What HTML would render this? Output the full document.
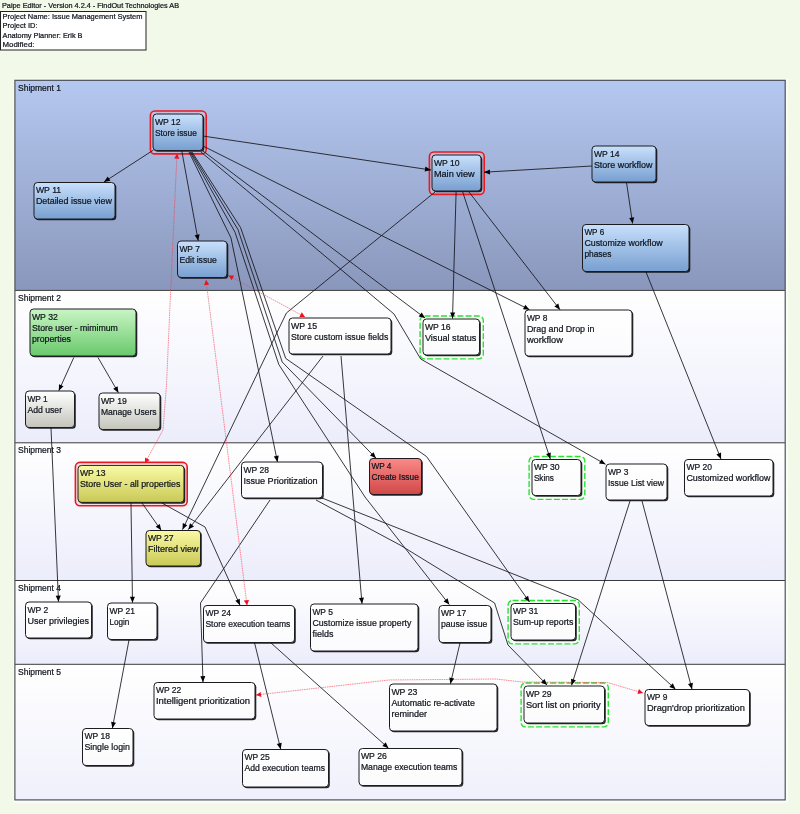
<!DOCTYPE html>
<html><head><meta charset="utf-8"><title>Paipe Editor</title>
<style>html,body{margin:0;padding:0;background:#f2f9e9;}body{width:800px;height:814px;overflow:hidden;font-family:"Liberation Sans",sans-serif;}svg{display:block;will-change:transform;transform:translateZ(0);filter:blur(0.4px)}text{font-family:"Liberation Sans",sans-serif;fill:#10141c;stroke:#10141c;stroke-width:0.22px}</style></head><body>
<svg width="800" height="814" viewBox="0 0 800 814">
<defs>
<linearGradient id="gs1" x1="0" y1="0" x2="0" y2="1"><stop offset="0" stop-color="#b5c8f0"/><stop offset="1" stop-color="#8a97bc"/></linearGradient>
<linearGradient id="gsw" x1="0" y1="0" x2="0" y2="1"><stop offset="0" stop-color="#ffffff"/><stop offset="1" stop-color="#ecedfb"/></linearGradient>
<linearGradient id="gsw5" x1="0" y1="0" x2="0" y2="1"><stop offset="0" stop-color="#ffffff"/><stop offset="1" stop-color="#f0f0fc"/></linearGradient>
<linearGradient id="gblue" x1="0" y1="0" x2="0" y2="1"><stop offset="0" stop-color="#c8e0fc"/><stop offset="1" stop-color="#789fd0"/></linearGradient>
<linearGradient id="ggreen" x1="0" y1="0" x2="0" y2="1"><stop offset="0" stop-color="#c9f5c4"/><stop offset="1" stop-color="#69c96c"/></linearGradient>
<linearGradient id="ggrey" x1="0" y1="0" x2="0" y2="1"><stop offset="0" stop-color="#ffffff"/><stop offset="1" stop-color="#c4c4bc"/></linearGradient>
<linearGradient id="gyellow" x1="0" y1="0" x2="0" y2="1"><stop offset="0" stop-color="#fafaa6"/><stop offset="1" stop-color="#c9c955"/></linearGradient>
<linearGradient id="gred" x1="0" y1="0" x2="0" y2="1"><stop offset="0" stop-color="#fa8a88"/><stop offset="1" stop-color="#d04848"/></linearGradient>
<linearGradient id="gwhite" x1="0" y1="0" x2="0" y2="1"><stop offset="0" stop-color="#ffffff"/><stop offset="1" stop-color="#fbfbfd"/></linearGradient>
</defs>
<rect width="800" height="814" fill="#f2f9e9"/>
<text x="2" y="7.6" font-size="7.3" textLength="177" lengthAdjust="spacingAndGlyphs">Paipe Editor - Version 4.2.4 - FindOut Technologies AB</text>
<rect x="0.5" y="11.5" width="145.5" height="38.5" fill="#ffffff" stroke="#222" stroke-width="1"/>
<text x="2.5" y="18.8" font-size="7.4" textLength="140" lengthAdjust="spacingAndGlyphs">Project Name: Issue Management System</text>
<text x="2.5" y="28.1" font-size="7.4" textLength="35" lengthAdjust="spacingAndGlyphs">Project ID:</text>
<text x="2.5" y="37.5" font-size="7.4" textLength="80" lengthAdjust="spacingAndGlyphs">Anatomy Planner: Erik B</text>
<text x="2.5" y="46.8" font-size="7.4" textLength="32" lengthAdjust="spacingAndGlyphs">Modified:</text>
<rect x="13.2" y="78.6" width="775" height="724.6" fill="#fafcf6"/>
<rect x="15" y="80" width="770" height="210.39999999999998" fill="url(#gs1)"/>
<rect x="15" y="290.4" width="770" height="152.40000000000003" fill="url(#gsw)"/>
<rect x="15" y="442.8" width="770" height="137.7" fill="url(#gsw)"/>
<rect x="15" y="580.5" width="770" height="83.79999999999995" fill="url(#gsw)"/>
<rect x="15" y="664.3" width="770" height="135.70000000000005" fill="url(#gsw5)"/>
<line x1="15" y1="290.4" x2="785" y2="290.4" stroke="#3a3a3a" stroke-width="1"/>
<line x1="15" y1="442.8" x2="785" y2="442.8" stroke="#3a3a3a" stroke-width="1"/>
<line x1="15" y1="580.5" x2="785" y2="580.5" stroke="#3a3a3a" stroke-width="1"/>
<line x1="15" y1="664.3" x2="785" y2="664.3" stroke="#3a3a3a" stroke-width="1"/>
<rect x="14.9" y="80.3" width="770.3" height="719.6" fill="none" stroke="#484c52" stroke-width="1.15"/>
<text x="18" y="90.5" font-size="8.6" textLength="43" lengthAdjust="spacingAndGlyphs">Shipment 1</text>
<text x="18" y="300.9" font-size="8.6" textLength="43" lengthAdjust="spacingAndGlyphs">Shipment 2</text>
<text x="18" y="453.3" font-size="8.6" textLength="43" lengthAdjust="spacingAndGlyphs">Shipment 3</text>
<text x="18" y="591.0" font-size="8.6" textLength="43" lengthAdjust="spacingAndGlyphs">Shipment 4</text>
<text x="18" y="674.8" font-size="8.6" textLength="43" lengthAdjust="spacingAndGlyphs">Shipment 5</text>
<rect x="150.4" y="111" width="55.8" height="42.9" rx="4.5" fill="#f4b8c0" fill-opacity="0.4" stroke="#ea1820" stroke-width="1.6"/>
<rect x="429.4" y="152" width="54.8" height="42.4" rx="4.5" fill="#f4b8c0" fill-opacity="0.4" stroke="#ea1820" stroke-width="1.6"/>
<rect x="420.1" y="316" width="63.2" height="42.9" rx="4.5" fill="#f6fff4" stroke="#2ce033" stroke-width="1.4" stroke-dasharray="6,2.2"/>
<rect x="75.4" y="462.4" width="111.8" height="43.4" rx="4.5" fill="#f4b8c0" fill-opacity="0.4" stroke="#ea1820" stroke-width="1.6"/>
<rect x="529.1" y="456.5" width="55.7" height="42.9" rx="4.5" fill="#f6fff4" stroke="#2ce033" stroke-width="1.4" stroke-dasharray="6,2.2"/>
<rect x="508.1" y="600.5" width="71.2" height="43.4" rx="4.5" fill="#f6fff4" stroke="#2ce033" stroke-width="1.4" stroke-dasharray="6,2.2"/>
<rect x="521.1" y="683" width="87.2" height="43.9" rx="4.5" fill="#f6fff4" stroke="#2ce033" stroke-width="1.4" stroke-dasharray="6,2.2"/>
<g fill="none" stroke="#14141a" stroke-width="0.85" stroke-linejoin="round">
<polyline points="153.5,150.0 104.0,182.0"/>
<polyline points="181.8,151.0 198.2,240.7"/>
<polyline points="189.0,152.0 231.0,238.0 277.5,462.0"/>
<polyline points="190.0,152.0 235.0,232.2 278.8,364.5 365.0,497.0 449.3,604.6"/>
<polyline points="191.0,152.0 238.0,229.6 282.2,362.0 376.0,458.2"/>
<polyline points="192.0,152.0 240.6,227.6 285.7,358.4 426.5,456.5 529.5,602.0"/>
<polyline points="204.0,136.2 431.0,170.0"/>
<polyline points="204.0,146.5 529.5,309.7"/>
<polyline points="203.0,151.0 425.0,318.0"/>
<polyline points="201.0,152.0 394.0,314.0 420.7,359.0 605.5,464.3"/>
<polyline points="592.0,166.0 484.0,172.2"/>
<polyline points="626.6,183.0 632.6,223.5"/>
<polyline points="435.0,192.0 286.4,313.0 182.5,529.6"/>
<polyline points="456.1,192.0 452.5,318.5"/>
<polyline points="462.7,192.0 550.3,459.0"/>
<polyline points="469.0,192.0 560.0,309.7"/>
<polyline points="646.0,272.0 721.0,459.0"/>
<polyline points="73.8,357.5 58.8,390.7"/>
<polyline points="98.0,357.5 118.4,392.7"/>
<polyline points="51.0,428.0 58.5,601.7"/>
<polyline points="131.0,503.0 132.5,602.7"/>
<polyline points="142.0,503.0 161.2,530.3"/>
<polyline points="162.0,503.0 205.0,527.0 240.0,605.2"/>
<polyline points="323.0,356.0 188.3,529.6"/>
<polyline points="341.0,356.0 362.0,603.8"/>
<polyline points="270.0,500.0 200.5,603.0 203.0,682.2"/>
<polyline points="322.0,498.0 578.0,599.7 675.5,689.2"/>
<polyline points="316.0,500.0 400.0,545.0 494.6,603.0 508.0,645.0 547.0,685.0"/>
<polyline points="630.0,501.0 571.6,685.2"/>
<polyline points="642.0,501.0 692.0,689.2"/>
<polyline points="129.0,640.0 112.4,728.2"/>
<polyline points="254.6,643.0 280.7,749.2"/>
<polyline points="271.0,643.0 388.5,748.2"/>
<polyline points="460.0,643.0 450.4,683.8"/>
</g>
<g fill="none" stroke="#f23a4c" stroke-width="0.8" stroke-opacity="0.72" stroke-dasharray="1.6,0.7">
<polyline points="177.0,153.6 170.7,290.0 166.5,385.0 163.0,430.0 145.0,463.0"/>
<polyline points="206.0,280.0 247.0,605.2"/>
<polyline points="228.5,275.5 305.0,317.0"/>
<polyline points="256.0,695.0 389.0,680.0 496.0,679.0 522.0,682.0 607.5,682.5 643.0,693.0"/>
</g>
<rect x="154.3" y="115.3" width="50" height="36.5" rx="3.5" fill="#08080c" fill-opacity="0.88"/>
<rect x="153" y="114" width="50" height="36.5" rx="3.5" fill="url(#gblue)" stroke="#1c1c20" stroke-width="1"/>
<text x="154.9" y="124.7" font-size="8.9" fill="#0e1a38" stroke="#0e1a38" textLength="25.8" lengthAdjust="spacingAndGlyphs">WP 12</text>
<text x="154.9" y="135.7" font-size="8.9" fill="#0e1a38" stroke="#0e1a38" textLength="42" lengthAdjust="spacingAndGlyphs">Store issue</text>
<rect x="35.3" y="183.8" width="81" height="36.5" rx="3.5" fill="#08080c" fill-opacity="0.88"/>
<rect x="34" y="182.5" width="81" height="36.5" rx="3.5" fill="url(#gblue)" stroke="#1c1c20" stroke-width="1"/>
<text x="35.9" y="193.2" font-size="8.9" fill="#0e1a38" stroke="#0e1a38" textLength="25.3" lengthAdjust="spacingAndGlyphs">WP 11</text>
<text x="35.9" y="204.2" font-size="8.9" fill="#0e1a38" stroke="#0e1a38" textLength="76" lengthAdjust="spacingAndGlyphs">Detailed issue view</text>
<rect x="178.8" y="242.3" width="49.5" height="36.5" rx="3.5" fill="#08080c" fill-opacity="0.88"/>
<rect x="177.5" y="241" width="49.5" height="36.5" rx="3.5" fill="url(#gblue)" stroke="#1c1c20" stroke-width="1"/>
<text x="179.4" y="251.7" font-size="8.9" fill="#0e1a38" stroke="#0e1a38" textLength="20.5" lengthAdjust="spacingAndGlyphs">WP 7</text>
<text x="179.4" y="262.7" font-size="8.9" fill="#0e1a38" stroke="#0e1a38" textLength="37.5" lengthAdjust="spacingAndGlyphs">Edit issue</text>
<rect x="433.3" y="156.3" width="49" height="36" rx="3.5" fill="#08080c" fill-opacity="0.88"/>
<rect x="432" y="155" width="49" height="36" rx="3.5" fill="url(#gblue)" stroke="#1c1c20" stroke-width="1"/>
<text x="433.9" y="165.7" font-size="8.9" fill="#0e1a38" stroke="#0e1a38" textLength="25.7" lengthAdjust="spacingAndGlyphs">WP 10</text>
<text x="433.9" y="176.7" font-size="8.9" fill="#0e1a38" stroke="#0e1a38" textLength="40.7" lengthAdjust="spacingAndGlyphs">Main view</text>
<rect x="593.3" y="147.3" width="64" height="36" rx="3.5" fill="#08080c" fill-opacity="0.88"/>
<rect x="592" y="146" width="64" height="36" rx="3.5" fill="url(#gblue)" stroke="#1c1c20" stroke-width="1"/>
<text x="593.9" y="156.7" font-size="8.9" fill="#0e1a38" stroke="#0e1a38" textLength="25.5" lengthAdjust="spacingAndGlyphs">WP 14</text>
<text x="593.9" y="167.7" font-size="8.9" fill="#0e1a38" stroke="#0e1a38" textLength="58.5" lengthAdjust="spacingAndGlyphs">Store workflow</text>
<rect x="583.8" y="225.8" width="106.5" height="47.0" rx="3.5" fill="#08080c" fill-opacity="0.88"/>
<rect x="582.5" y="224.5" width="106.5" height="47.0" rx="3.5" fill="url(#gblue)" stroke="#1c1c20" stroke-width="1"/>
<text x="584.4" y="235.2" font-size="8.9" fill="#0e1a38" stroke="#0e1a38" textLength="19.8" lengthAdjust="spacingAndGlyphs">WP 6</text>
<text x="584.4" y="246.2" font-size="8.9" fill="#0e1a38" stroke="#0e1a38" textLength="78.3" lengthAdjust="spacingAndGlyphs">Customize workflow</text>
<text x="584.4" y="257.2" font-size="8.9" fill="#0e1a38" stroke="#0e1a38" textLength="27" lengthAdjust="spacingAndGlyphs">phases</text>
<rect x="31.3" y="310.3" width="106" height="47" rx="3.5" fill="#08080c" fill-opacity="0.88"/>
<rect x="30" y="309" width="106" height="47" rx="3.5" fill="url(#ggreen)" stroke="#1c1c20" stroke-width="1"/>
<text x="31.9" y="319.7" font-size="8.9" fill="#0c2c0c" stroke="#0c2c0c" textLength="26" lengthAdjust="spacingAndGlyphs">WP 32</text>
<text x="31.9" y="330.7" font-size="8.9" fill="#0c2c0c" stroke="#0c2c0c" textLength="86" lengthAdjust="spacingAndGlyphs">Store user - mimimum</text>
<text x="31.9" y="341.7" font-size="8.9" fill="#0c2c0c" stroke="#0c2c0c" textLength="39" lengthAdjust="spacingAndGlyphs">properties</text>
<rect x="26.8" y="392.3" width="49.0" height="36.5" rx="3.5" fill="#08080c" fill-opacity="0.88"/>
<rect x="25.5" y="391" width="49.0" height="36.5" rx="3.5" fill="url(#ggrey)" stroke="#1c1c20" stroke-width="1"/>
<text x="27.4" y="401.7" font-size="8.9" fill="#141414" stroke="#141414" textLength="20.3" lengthAdjust="spacingAndGlyphs">WP 1</text>
<text x="27.4" y="412.7" font-size="8.9" fill="#141414" stroke="#141414" textLength="34.7" lengthAdjust="spacingAndGlyphs">Add user</text>
<rect x="100.3" y="394.3" width="61" height="36.5" rx="3.5" fill="#08080c" fill-opacity="0.88"/>
<rect x="99" y="393" width="61" height="36.5" rx="3.5" fill="url(#ggrey)" stroke="#1c1c20" stroke-width="1"/>
<text x="100.9" y="403.7" font-size="8.9" fill="#141414" stroke="#141414" textLength="26" lengthAdjust="spacingAndGlyphs">WP 19</text>
<text x="100.9" y="414.7" font-size="8.9" fill="#141414" stroke="#141414" textLength="55.7" lengthAdjust="spacingAndGlyphs">Manage Users</text>
<rect x="290.3" y="319.3" width="102" height="36" rx="3.5" fill="#08080c" fill-opacity="0.88"/>
<rect x="289" y="318" width="102" height="36" rx="3.5" fill="url(#gwhite)" stroke="#1c1c20" stroke-width="1"/>
<text x="290.9" y="328.7" font-size="8.9" fill="#141418" stroke="#141418" textLength="26.2" lengthAdjust="spacingAndGlyphs">WP 15</text>
<text x="290.9" y="339.7" font-size="8.9" fill="#141418" stroke="#141418" textLength="97.5" lengthAdjust="spacingAndGlyphs">Store custom issue fields</text>
<rect x="424.3" y="320.3" width="56.5" height="36" rx="3.5" fill="#08080c" fill-opacity="0.88"/>
<rect x="423" y="319" width="56.5" height="36" rx="3.5" fill="url(#gwhite)" stroke="#1c1c20" stroke-width="1"/>
<text x="424.9" y="329.7" font-size="8.9" fill="#141418" stroke="#141418" textLength="25.7" lengthAdjust="spacingAndGlyphs">WP 16</text>
<text x="424.9" y="340.7" font-size="8.9" fill="#141418" stroke="#141418" textLength="51.5" lengthAdjust="spacingAndGlyphs">Visual status</text>
<rect x="526.3" y="311.3" width="107" height="46" rx="3.5" fill="#08080c" fill-opacity="0.88"/>
<rect x="525" y="310" width="107" height="46" rx="3.5" fill="url(#gwhite)" stroke="#1c1c20" stroke-width="1"/>
<text x="526.9" y="320.7" font-size="8.9" fill="#141418" stroke="#141418" textLength="20.5" lengthAdjust="spacingAndGlyphs">WP 8</text>
<text x="526.9" y="331.7" font-size="8.9" fill="#141418" stroke="#141418" textLength="67.5" lengthAdjust="spacingAndGlyphs">Drag and Drop in</text>
<text x="526.9" y="342.7" font-size="8.9" fill="#141418" stroke="#141418" textLength="36" lengthAdjust="spacingAndGlyphs">workflow</text>
<rect x="79.3" y="466.7" width="106" height="37.0" rx="3.5" fill="#08080c" fill-opacity="0.88"/>
<rect x="78" y="465.4" width="106" height="37.0" rx="3.5" fill="url(#gyellow)" stroke="#1c1c20" stroke-width="1"/>
<text x="79.9" y="476.09999999999997" font-size="8.9" fill="#1c1c04" stroke="#1c1c04" textLength="25.7" lengthAdjust="spacingAndGlyphs">WP 13</text>
<text x="79.9" y="487.09999999999997" font-size="8.9" fill="#1c1c04" stroke="#1c1c04" textLength="100.5" lengthAdjust="spacingAndGlyphs">Store User - all properties</text>
<rect x="147.3" y="531.8" width="54.5" height="35.5" rx="3.5" fill="#08080c" fill-opacity="0.88"/>
<rect x="146" y="530.5" width="54.5" height="35.5" rx="3.5" fill="url(#gyellow)" stroke="#1c1c20" stroke-width="1"/>
<text x="147.9" y="541.2" font-size="8.9" fill="#1c1c04" stroke="#1c1c04" textLength="25.7" lengthAdjust="spacingAndGlyphs">WP 27</text>
<text x="147.9" y="552.2" font-size="8.9" fill="#1c1c04" stroke="#1c1c04" textLength="50.5" lengthAdjust="spacingAndGlyphs">Filtered view</text>
<rect x="242.8" y="463.3" width="81.0" height="36" rx="3.5" fill="#08080c" fill-opacity="0.88"/>
<rect x="241.5" y="462" width="81.0" height="36" rx="3.5" fill="url(#gwhite)" stroke="#1c1c20" stroke-width="1"/>
<text x="243.4" y="472.7" font-size="8.9" fill="#141418" stroke="#141418" textLength="25.5" lengthAdjust="spacingAndGlyphs">WP 28</text>
<text x="243.4" y="483.7" font-size="8.9" fill="#141418" stroke="#141418" textLength="74.2" lengthAdjust="spacingAndGlyphs">Issue Prioritization</text>
<rect x="370.8" y="459.8" width="52.0" height="36.0" rx="3.5" fill="#08080c" fill-opacity="0.88"/>
<rect x="369.5" y="458.5" width="52.0" height="36.0" rx="3.5" fill="url(#gred)" stroke="#1c1c20" stroke-width="1"/>
<text x="371.4" y="469.2" font-size="8.9" fill="#300808" stroke="#300808" textLength="20" lengthAdjust="spacingAndGlyphs">WP 4</text>
<text x="371.4" y="480.2" font-size="8.9" fill="#300808" stroke="#300808" textLength="47.5" lengthAdjust="spacingAndGlyphs">Create Issue</text>
<rect x="533.3" y="460.8" width="49" height="36.0" rx="3.5" fill="#08080c" fill-opacity="0.88"/>
<rect x="532" y="459.5" width="49" height="36.0" rx="3.5" fill="url(#gwhite)" stroke="#1c1c20" stroke-width="1"/>
<text x="533.9" y="470.2" font-size="8.9" fill="#141418" stroke="#141418" textLength="25.7" lengthAdjust="spacingAndGlyphs">WP 30</text>
<text x="533.9" y="481.2" font-size="8.9" fill="#141418" stroke="#141418" textLength="20" lengthAdjust="spacingAndGlyphs">Skins</text>
<rect x="607.3" y="465.3" width="61" height="36" rx="3.5" fill="#08080c" fill-opacity="0.88"/>
<rect x="606" y="464" width="61" height="36" rx="3.5" fill="url(#gwhite)" stroke="#1c1c20" stroke-width="1"/>
<text x="607.9" y="474.7" font-size="8.9" fill="#141418" stroke="#141418" textLength="20.5" lengthAdjust="spacingAndGlyphs">WP 3</text>
<text x="607.9" y="485.7" font-size="8.9" fill="#141418" stroke="#141418" textLength="56.2" lengthAdjust="spacingAndGlyphs">Issue List view</text>
<rect x="685.8" y="460.8" width="88.5" height="36.5" rx="3.5" fill="#08080c" fill-opacity="0.88"/>
<rect x="684.5" y="459.5" width="88.5" height="36.5" rx="3.5" fill="url(#gwhite)" stroke="#1c1c20" stroke-width="1"/>
<text x="686.4" y="470.2" font-size="8.9" fill="#141418" stroke="#141418" textLength="25.5" lengthAdjust="spacingAndGlyphs">WP 20</text>
<text x="686.4" y="481.2" font-size="8.9" fill="#141418" stroke="#141418" textLength="84" lengthAdjust="spacingAndGlyphs">Customized workflow</text>
<rect x="26.8" y="603.3" width="66.0" height="36" rx="3.5" fill="#08080c" fill-opacity="0.88"/>
<rect x="25.5" y="602" width="66.0" height="36" rx="3.5" fill="url(#gwhite)" stroke="#1c1c20" stroke-width="1"/>
<text x="27.4" y="612.7" font-size="8.9" fill="#141418" stroke="#141418" textLength="20.8" lengthAdjust="spacingAndGlyphs">WP 2</text>
<text x="27.4" y="623.7" font-size="8.9" fill="#141418" stroke="#141418" textLength="61.5" lengthAdjust="spacingAndGlyphs">User privilegies</text>
<rect x="108.8" y="604.3" width="49.5" height="36.5" rx="3.5" fill="#08080c" fill-opacity="0.88"/>
<rect x="107.5" y="603" width="49.5" height="36.5" rx="3.5" fill="url(#gwhite)" stroke="#1c1c20" stroke-width="1"/>
<text x="109.4" y="613.7" font-size="8.9" fill="#141418" stroke="#141418" textLength="25.5" lengthAdjust="spacingAndGlyphs">WP 21</text>
<text x="109.4" y="624.7" font-size="8.9" fill="#141418" stroke="#141418" textLength="20" lengthAdjust="spacingAndGlyphs">Login</text>
<rect x="204.8" y="606.8" width="91.0" height="37.0" rx="3.5" fill="#08080c" fill-opacity="0.88"/>
<rect x="203.5" y="605.5" width="91.0" height="37.0" rx="3.5" fill="url(#gwhite)" stroke="#1c1c20" stroke-width="1"/>
<text x="205.4" y="616.2" font-size="8.9" fill="#141418" stroke="#141418" textLength="25.5" lengthAdjust="spacingAndGlyphs">WP 24</text>
<text x="205.4" y="627.2" font-size="8.9" fill="#141418" stroke="#141418" textLength="85" lengthAdjust="spacingAndGlyphs">Store execution teams</text>
<rect x="311.8" y="605.3" width="107.5" height="47" rx="3.5" fill="#08080c" fill-opacity="0.88"/>
<rect x="310.5" y="604" width="107.5" height="47" rx="3.5" fill="url(#gwhite)" stroke="#1c1c20" stroke-width="1"/>
<text x="312.4" y="614.7" font-size="8.9" fill="#141418" stroke="#141418" textLength="20.5" lengthAdjust="spacingAndGlyphs">WP 5</text>
<text x="312.4" y="625.7" font-size="8.9" fill="#141418" stroke="#141418" textLength="99" lengthAdjust="spacingAndGlyphs">Customize issue property</text>
<text x="312.4" y="636.7" font-size="8.9" fill="#141418" stroke="#141418" textLength="21" lengthAdjust="spacingAndGlyphs">fields</text>
<rect x="440.3" y="606.8" width="52" height="37.0" rx="3.5" fill="#08080c" fill-opacity="0.88"/>
<rect x="439" y="605.5" width="52" height="37.0" rx="3.5" fill="url(#gwhite)" stroke="#1c1c20" stroke-width="1"/>
<text x="440.9" y="616.2" font-size="8.9" fill="#141418" stroke="#141418" textLength="25.4" lengthAdjust="spacingAndGlyphs">WP 17</text>
<text x="440.9" y="627.2" font-size="8.9" fill="#141418" stroke="#141418" textLength="46.5" lengthAdjust="spacingAndGlyphs">pause issue</text>
<rect x="512.3" y="604.8" width="64.5" height="36.5" rx="3.5" fill="#08080c" fill-opacity="0.88"/>
<rect x="511" y="603.5" width="64.5" height="36.5" rx="3.5" fill="url(#gwhite)" stroke="#1c1c20" stroke-width="1"/>
<text x="512.9" y="614.2" font-size="8.9" fill="#141418" stroke="#141418" textLength="25.4" lengthAdjust="spacingAndGlyphs">WP 31</text>
<text x="512.9" y="625.2" font-size="8.9" fill="#141418" stroke="#141418" textLength="60.5" lengthAdjust="spacingAndGlyphs">Sum-up reports</text>
<rect x="155.3" y="683.8" width="101" height="36.5" rx="3.5" fill="#08080c" fill-opacity="0.88"/>
<rect x="154" y="682.5" width="101" height="36.5" rx="3.5" fill="url(#gwhite)" stroke="#1c1c20" stroke-width="1"/>
<text x="155.9" y="693.2" font-size="8.9" fill="#141418" stroke="#141418" textLength="25.4" lengthAdjust="spacingAndGlyphs">WP 22</text>
<text x="155.9" y="704.2" font-size="8.9" fill="#141418" stroke="#141418" textLength="94.2" lengthAdjust="spacingAndGlyphs">Intelligent prioritization</text>
<rect x="83.8" y="729.8" width="50.5" height="37.0" rx="3.5" fill="#08080c" fill-opacity="0.88"/>
<rect x="82.5" y="728.5" width="50.5" height="37.0" rx="3.5" fill="url(#gwhite)" stroke="#1c1c20" stroke-width="1"/>
<text x="84.4" y="739.2" font-size="8.9" fill="#141418" stroke="#141418" textLength="25.5" lengthAdjust="spacingAndGlyphs">WP 18</text>
<text x="84.4" y="750.2" font-size="8.9" fill="#141418" stroke="#141418" textLength="45.5" lengthAdjust="spacingAndGlyphs">Single login</text>
<rect x="243.8" y="750.8" width="86.0" height="37.5" rx="3.5" fill="#08080c" fill-opacity="0.88"/>
<rect x="242.5" y="749.5" width="86.0" height="37.5" rx="3.5" fill="url(#gwhite)" stroke="#1c1c20" stroke-width="1"/>
<text x="244.4" y="760.2" font-size="8.9" fill="#141418" stroke="#141418" textLength="25.4" lengthAdjust="spacingAndGlyphs">WP 25</text>
<text x="244.4" y="771.2" font-size="8.9" fill="#141418" stroke="#141418" textLength="80.6" lengthAdjust="spacingAndGlyphs">Add execution teams</text>
<rect x="360.3" y="749.8" width="103" height="37.0" rx="3.5" fill="#08080c" fill-opacity="0.88"/>
<rect x="359" y="748.5" width="103" height="37.0" rx="3.5" fill="url(#gwhite)" stroke="#1c1c20" stroke-width="1"/>
<text x="360.9" y="759.2" font-size="8.9" fill="#141418" stroke="#141418" textLength="26" lengthAdjust="spacingAndGlyphs">WP 26</text>
<text x="360.9" y="770.2" font-size="8.9" fill="#141418" stroke="#141418" textLength="96.5" lengthAdjust="spacingAndGlyphs">Manage execution teams</text>
<rect x="390.8" y="685.3" width="107.5" height="47" rx="3.5" fill="#08080c" fill-opacity="0.88"/>
<rect x="389.5" y="684" width="107.5" height="47" rx="3.5" fill="url(#gwhite)" stroke="#1c1c20" stroke-width="1"/>
<text x="391.4" y="694.7" font-size="8.9" fill="#141418" stroke="#141418" textLength="26" lengthAdjust="spacingAndGlyphs">WP 23</text>
<text x="391.4" y="705.7" font-size="8.9" fill="#141418" stroke="#141418" textLength="83.5" lengthAdjust="spacingAndGlyphs">Automatic re-activate</text>
<text x="391.4" y="716.7" font-size="8.9" fill="#141418" stroke="#141418" textLength="35.7" lengthAdjust="spacingAndGlyphs">reminder</text>
<rect x="525.3" y="687.3" width="80.5" height="37" rx="3.5" fill="#08080c" fill-opacity="0.88"/>
<rect x="524" y="686" width="80.5" height="37" rx="3.5" fill="url(#gwhite)" stroke="#1c1c20" stroke-width="1"/>
<text x="525.9" y="696.7" font-size="8.9" fill="#141418" stroke="#141418" textLength="25.7" lengthAdjust="spacingAndGlyphs">WP 29</text>
<text x="525.9" y="707.7" font-size="8.9" fill="#141418" stroke="#141418" textLength="74.7" lengthAdjust="spacingAndGlyphs">Sort list on priority</text>
<rect x="646.3" y="690.8" width="104.5" height="36.0" rx="3.5" fill="#08080c" fill-opacity="0.88"/>
<rect x="645" y="689.5" width="104.5" height="36.0" rx="3.5" fill="url(#gwhite)" stroke="#1c1c20" stroke-width="1"/>
<text x="646.9" y="700.2" font-size="8.9" fill="#141418" stroke="#141418" textLength="20.5" lengthAdjust="spacingAndGlyphs">WP 9</text>
<text x="646.9" y="711.2" font-size="8.9" fill="#141418" stroke="#141418" textLength="98" lengthAdjust="spacingAndGlyphs">Dragn&#39;drop prioritization</text>
<polygon points="104.0,182.0 107.7,176.6 110.4,180.8" fill="#000"/>
<polygon points="198.2,240.7 194.7,235.2 199.6,234.3" fill="#000"/>
<polygon points="277.5,462.0 273.8,456.6 278.7,455.6" fill="#000"/>
<polygon points="449.3,604.6 443.6,601.4 447.6,598.3" fill="#000"/>
<polygon points="376.0,458.2 370.0,455.6 373.6,452.2" fill="#000"/>
<polygon points="529.5,602.0 524.0,598.5 528.1,595.7" fill="#000"/>
<polygon points="431.0,170.0 424.7,171.6 425.4,166.6" fill="#000"/>
<polygon points="529.5,309.7 523.0,309.2 525.3,304.8" fill="#000"/>
<polygon points="425.0,318.0 418.7,316.4 421.7,312.4" fill="#000"/>
<polygon points="605.5,464.3 599.0,463.5 601.5,459.2" fill="#000"/>
<polygon points="484.0,172.2 489.8,169.4 490.1,174.4" fill="#000"/>
<polygon points="632.6,223.5 629.2,217.9 634.2,217.2" fill="#000"/>
<polygon points="182.5,529.6 182.8,523.1 187.3,525.3" fill="#000"/>
<polygon points="452.5,318.5 450.2,312.4 455.2,312.6" fill="#000"/>
<polygon points="550.3,459.0 546.1,454.1 550.8,452.5" fill="#000"/>
<polygon points="560.0,309.7 554.4,306.5 558.3,303.4" fill="#000"/>
<polygon points="721.0,459.0 716.4,454.4 721.1,452.5" fill="#000"/>
<polygon points="58.8,390.7 59.0,384.2 63.5,386.3" fill="#000"/>
<polygon points="118.4,392.7 113.2,388.8 117.6,386.3" fill="#000"/>
<polygon points="58.5,601.7 55.7,595.8 60.7,595.6" fill="#000"/>
<polygon points="132.5,602.7 129.9,596.7 134.9,596.7" fill="#000"/>
<polygon points="161.2,530.3 155.7,526.8 159.8,524.0" fill="#000"/>
<polygon points="240.0,605.2 235.3,600.7 239.8,598.7" fill="#000"/>
<polygon points="188.3,529.6 190.0,523.3 194.0,526.4" fill="#000"/>
<polygon points="362.0,603.8 359.0,598.0 364.0,597.6" fill="#000"/>
<polygon points="203.0,682.2 200.3,676.3 205.3,676.1" fill="#000"/>
<polygon points="675.5,689.2 669.4,687.0 672.8,683.3" fill="#000"/>
<polygon points="547.0,685.0 541.0,682.4 544.6,679.0" fill="#000"/>
<polygon points="571.6,685.2 571.0,678.7 575.8,680.2" fill="#000"/>
<polygon points="692.0,689.2 688.0,684.0 692.9,682.8" fill="#000"/>
<polygon points="112.4,728.2 111.1,721.8 116.0,722.8" fill="#000"/>
<polygon points="280.7,749.2 276.8,744.0 281.7,742.8" fill="#000"/>
<polygon points="388.5,748.2 382.4,746.1 385.7,742.3" fill="#000"/>
<polygon points="450.4,683.8 449.3,677.4 454.2,678.5" fill="#000"/>
<polygon points="145.0,463.0 145.1,457.4 149.7,459.9" fill="#f01020"/>
<polygon points="177.0,153.6 179.4,158.7 174.2,158.5" fill="#f01020"/>
<polygon points="247.0,605.2 243.8,600.6 249.0,599.9" fill="#f01020"/>
<polygon points="206.0,280.0 209.2,284.6 204.0,285.3" fill="#f01020"/>
<polygon points="305.0,317.0 299.4,316.9 301.8,312.3" fill="#f01020"/>
<polygon points="228.5,275.5 234.1,275.6 231.7,280.2" fill="#f01020"/>
<polygon points="643.0,693.0 637.5,694.1 638.9,689.1" fill="#f01020"/>
<polygon points="256.0,695.0 260.7,691.9 261.3,697.0" fill="#f01020"/>
</svg></body></html>
